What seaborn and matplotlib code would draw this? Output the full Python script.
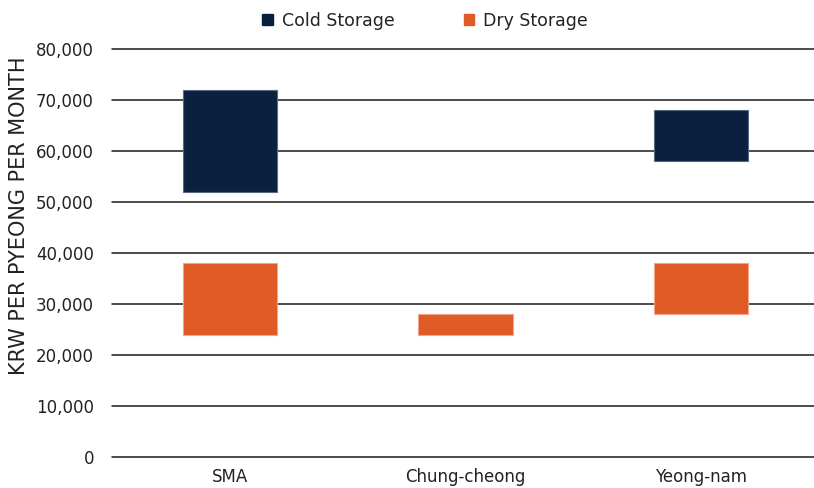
import matplotlib
matplotlib.use("Agg")
import matplotlib.pyplot as plt
import seaborn as sns
import pandas as pd
import numpy as np
from matplotlib.patches import Patch

sns.set_theme(style="white")
plt.rcParams["font.family"] = ["DejaVu Sans"]

# Regional warehouse rent ranges (KRW per pyeong per month)
regions = ["SMA", "Chung-cheong", "Yeong-nam"]
cold_regions = ["SMA", "Yeong-nam"]
cold_low = [52000, 58000]
cold_high = [72000, 68000]
dry_regions = ["SMA", "Chung-cheong", "Yeong-nam"]
dry_low = [24000, 24000, 28000]
dry_high = [38000, 28000, 38000]
series_names = ["Cold Storage", "Dry Storage"]
yticks = [0, 10000, 20000, 30000, 40000, 50000, 60000, 70000, 80000]

navy = "#0B1F3F"
orange = "#E05A26"
text_color = "#222222"

cold = pd.DataFrame({"region": cold_regions,
                     "span": np.array(cold_high) - np.array(cold_low)})
dry = pd.DataFrame({"region": dry_regions,
                    "span": np.array(dry_high) - np.array(dry_low)})

fig = plt.figure(figsize=(8.14, 4.88), dpi=100)
ax = fig.add_axes([112 / 814, 31 / 488, 707 / 814, 408 / 488])

sns.barplot(data=cold, x="region", y="span", order=regions, bottom=cold_low,
            color=navy, saturation=1, width=0.4, edgecolor="#5A6A85",
            linewidth=0.8, ax=ax, zorder=3)
sns.barplot(data=dry, x="region", y="span", order=regions, bottom=dry_low,
            color=orange, saturation=1, width=0.4, edgecolor="#F2A584",
            linewidth=0.8, ax=ax, zorder=3)

ax.set_ylim(0, 80000)
ax.set_yticks(yticks)
ax.set_yticklabels([f"{v:,}" for v in yticks])
ax.yaxis.grid(True, color="#1a1a1a", linewidth=1.1, zorder=0)
for gl in ax.get_ygridlines():
    gl.set_clip_on(False)
ax.set_axisbelow(True)
for s in ax.spines.values():
    s.set_visible(False)
ax.tick_params(axis="y", length=0, pad=13, labelsize=12, labelcolor=text_color)
ax.tick_params(axis="x", length=0, pad=8, labelsize=12, labelcolor=text_color)
ax.set_xlabel("")
ax.set_ylabel("KRW PER PYEONG PER MONTH", fontsize=15, color=text_color)
ax.yaxis.set_label_coords(29 / 814, 1 - 216 / 488, transform=fig.transFigure)

handles = [Patch(facecolor=navy, edgecolor=navy),
           Patch(facecolor=orange, edgecolor=orange)]
fig.legend(handles, series_names, loc="center", ncol=2, frameon=False,
           bbox_to_anchor=(425 / 814, 1 - 21 / 488), fontsize=12.5,
           handlelength=0.6, handleheight=0.6, handletextpad=0.5,
           columnspacing=4.0, labelcolor=text_color)

fig.savefig("out.png", dpi=100)
